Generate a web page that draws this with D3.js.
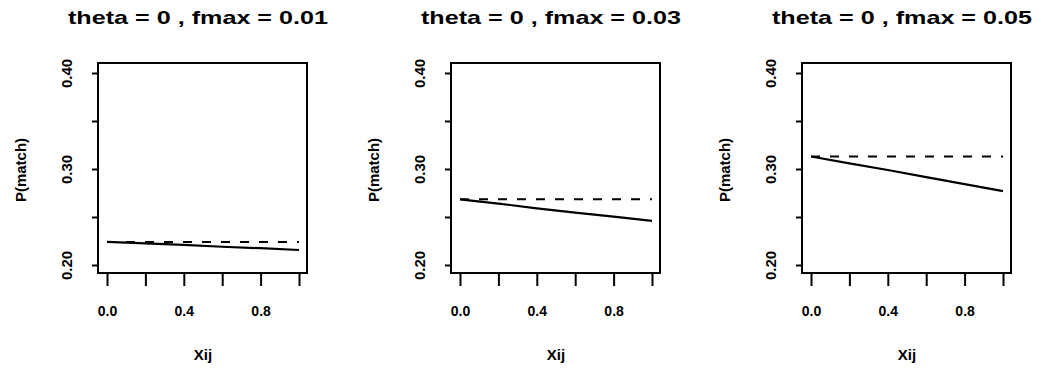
<!DOCTYPE html>
<html>
<head>
<meta charset="utf-8">
<script src="https://cdn.jsdelivr.net/npm/d3@7"></script>
<style>
  body { margin: 0; background: #fff; }
  text { font-family: "Liberation Sans", Arial, sans-serif; font-weight: bold; fill: #000; }
</style>
</head>
<body>
<svg id="chart" width="1051" height="372"></svg>
<script>
// data
var titles = ["theta = 0 ,  fmax = 0.01", "theta = 0 ,  fmax = 0.03", "theta = 0 ,  fmax = 0.05"];
var xs = [0, 0.2, 0.4, 0.6, 0.8, 1.0];
var solid_1 = [0.224, 0.2225, 0.221, 0.219, 0.2175, 0.2156];
var solid_2 = [0.2684, 0.264, 0.259, 0.2545, 0.2503, 0.246];
var solid_3 = [0.313, 0.3058, 0.2990, 0.2915, 0.2843, 0.277];
var dashed = [0.224, 0.2684, 0.313];
var xTicks = [0, 0.2, 0.4, 0.6, 0.8, 1.0];
var xLabels = [0, 0.4, 0.8];
var yTicks = [0.20, 0.25, 0.30, 0.35, 0.40];
var yLabels = [0.20, 0.30, 0.40];
var solids = [solid_1, solid_2, solid_3];

var svg = d3.select("#chart");
var offsets = [0, 353, 704];

offsets.forEach(function (off, p) {
    var g = svg.append("g").attr("transform", "translate(" + off + ",0)");
    var boxL = 98, boxR = 307, boxT = 63, boxB = 273;

    var x = d3.scaleLinear().domain([0, 1]).range([107, 299]);
    var y = d3.scaleLinear().domain([0.2, 0.4]).range([265, 73]);

    // title (glyphs stretched wide like the original)
    g.append("text")
        .attr("x", 68).attr("y", 24)
        .attr("textLength", 260).attr("lengthAdjust", "spacingAndGlyphs")
        .style("font-size", "19px")
        .text(titles[p]);

    // x axis
    var xa = g.append("g").attr("transform", "translate(0," + boxB + ")")
        .call(d3.axisBottom(x).tickValues(xTicks).tickSize(13).tickFormat(function (d) {
            return xLabels.indexOf(d) != -1 ? d3.format(".1f")(d) : "";
        }));
    xa.select(".domain").remove();
    xa.selectAll("line").attr("stroke", "#000").attr("stroke-width", 2);
    xa.selectAll("text").attr("y", 33).style("font-size", "14px").style("font-family", null);

    // y axis
    var ya = g.append("g").attr("transform", "translate(" + boxL + ",0)")
        .call(d3.axisLeft(y).tickValues(yTicks).tickSize(6).tickFormat(function (d) {
            return yLabels.some(function (v) { return Math.abs(v - d) < 1e-9; }) ? d3.format(".2f")(d) : "";
        }));
    ya.select(".domain").remove();
    ya.selectAll("line").attr("stroke", "#000").attr("stroke-width", 2);
    ya.selectAll(".tick text")
        .attr("x", null).attr("dy", null)
        .attr("transform", "translate(-26,0) rotate(-90)")
        .attr("text-anchor", "middle")
        .style("font-size", "15px").style("font-family", null);

    // box
    g.append("rect")
        .attr("x", boxL).attr("y", boxT)
        .attr("width", boxR - boxL).attr("height", boxB - boxT)
        .attr("fill", "none").attr("stroke", "#000").attr("stroke-width", 2);

    // axis titles
    g.append("text")
        .attr("transform", "translate(26,170) rotate(-90)")
        .attr("text-anchor", "middle")
        .style("font-size", "15px")
        .text("P(match)");
    g.append("text")
        .attr("x", 203).attr("y", 360)
        .attr("text-anchor", "middle")
        .style("font-size", "15px")
        .text("Xij");

    // lines
    var line = d3.line().x(function (d) { return x(d[0]); }).y(function (d) { return y(d[1]); });
    g.append("path")
        .datum([[0, dashed[p]], [1, dashed[p]]])
        .attr("d", line)
        .attr("fill", "none").attr("stroke", "#000").attr("stroke-width", 2)
        .attr("stroke-dasharray", "9,10");
    g.append("path")
        .datum(xs.map(function (v, i) { return [v, solids[p][i]]; }))
        .attr("d", line)
        .attr("fill", "none").attr("stroke", "#000").attr("stroke-width", 2.2);
});
</script>
</body>
</html>
